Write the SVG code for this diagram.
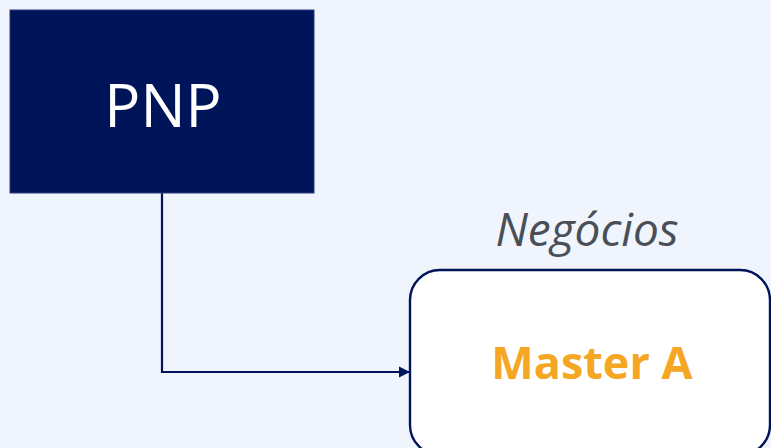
<svg xmlns="http://www.w3.org/2000/svg" width="771" height="448" viewBox="0 0 771 448">
<defs>
<style>
.lbl{font-family:"Open Sans","Noto Sans","Liberation Sans",sans-serif;text-anchor:middle}
</style>
<marker id="arr" viewBox="0 0 10 10" refX="10" refY="5" markerWidth="5" markerHeight="6" orient="auto" markerUnits="strokeWidth">
<path d="M0,0 L10,5 L0,10 z" fill="#00145a"/>
</marker>
</defs>
<rect width="771" height="448" fill="#eff4fd"/>
<g id="connectors">
<path d="M162,193 V372 H410" fill="none" stroke="#00145a" stroke-width="2.2" marker-end="url(#arr)"/>
</g>
<g id="pnp">
<rect x="10" y="10" width="304" height="183" fill="#00145a" stroke="#2a3a7a" stroke-width="1"/>
<text class="lbl" x="163" y="127" font-size="60" fill="#ffffff">PNP</text>
</g>
<g id="negocios">
<text class="lbl" x="587" y="246" font-size="46" font-style="italic" fill="#4a4f57">Negócios</text>
</g>
<g id="masterA">
<rect x="410" y="270" width="360" height="185" rx="30" ry="30" fill="#ffffff" stroke="#00145a" stroke-width="2.4"/>
<text class="lbl" x="592" y="379" font-size="45" font-weight="bold" fill="#f5a623">Master A</text>
</g>
</svg>
